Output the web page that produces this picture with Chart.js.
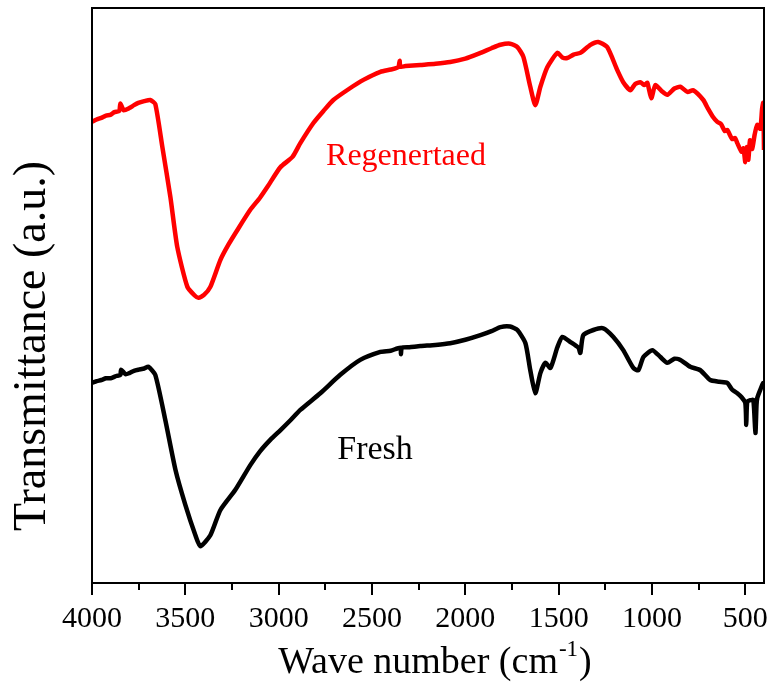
<!DOCTYPE html>
<html>
<head>
<meta charset="utf-8">
<title>FTIR spectra</title>
<script src="https://cdn.jsdelivr.net/npm/chart.js@4.4.1/dist/chart.umd.min.js"></script>
<style>
  html, body { margin: 0; padding: 0; background: #fff; }
  #wrap { width: 777px; height: 690px; }
</style>
</head>
<body>
<div id="wrap"><canvas id="ftir" width="777" height="690"></canvas></div>
<script>
// wavenumber (cm-1) and transmittance (a.u.) for each sample
const regenWave = [4000, 3975, 3950, 3925, 3902, 3880, 3854, 3848, 3830, 3800, 3775, 3752, 3720, 3688, 3661, 3623, 3580, 3543, 3489, 3450, 3430, 3400, 3366, 3312, 3270, 3221, 3152, 3100, 3060, 2991, 2926, 2884, 2814, 2760, 2707, 2620, 2546, 2455, 2400, 2359, 2352, 2348, 2321, 2241, 2160, 2081, 2000, 1919, 1860, 1812, 1760, 1721, 1689, 1652, 1625, 1598, 1561, 1507, 1480, 1454, 1420, 1384, 1330, 1288, 1240, 1186, 1154, 1116, 1090, 1063, 1040, 1025, 1004, 982, 950, 918, 880, 848, 810, 779, 725, 700, 672, 650, 630, 610, 597, 570, 555, 543, 520, 510, 500, 492, 484, 475, 463, 450, 436, 420, 410, 404, 400];
const regenT = [80.2, 80.6, 80.9, 81.3, 81.4, 81.9, 82.1, 83.4, 82.2, 82.6, 83.1, 83.5, 83.8, 84.0, 83.3, 75.8, 67.1, 58.4, 51.5, 50.0, 49.6, 50.1, 51.5, 56.2, 58.8, 61.4, 64.9, 67.0, 68.9, 72.3, 74.1, 76.5, 80.0, 82.1, 84.0, 86.0, 87.5, 88.9, 89.3, 89.7, 90.8, 89.8, 89.9, 90.1, 90.3, 90.6, 91.2, 92.2, 93.0, 93.6, 93.8, 93.2, 91.5, 86.3, 83.1, 86.3, 89.7, 92.2, 91.4, 91.3, 91.9, 92.2, 93.6, 94.1, 93.2, 89.2, 87.1, 85.7, 86.8, 87.1, 86.6, 87.0, 84.3, 86.6, 85.6, 84.9, 86.0, 86.3, 85.4, 85.7, 84.0, 82.5, 81.0, 80.2, 79.8, 78.6, 78.8, 77.2, 77.4, 76.5, 75.0, 75.6, 73.2, 75.8, 73.6, 77.0, 75.5, 78.0, 79.7, 79.0, 82.5, 83.5, 75.3];

const freshWave = [4000, 3975, 3950, 3925, 3900, 3870, 3848, 3844, 3820, 3800, 3775, 3750, 3720, 3698, 3661, 3607, 3553, 3500, 3446, 3420, 3366, 3312, 3232, 3152, 3100, 3045, 2990, 2937, 2884, 2777, 2670, 2563, 2455, 2400, 2348, 2345, 2340, 2300, 2241, 2160, 2081, 2000, 1919, 1860, 1812, 1760, 1721, 1678, 1652, 1625, 1598, 1571, 1544, 1507, 1480, 1437, 1394, 1384, 1368, 1314, 1261, 1207, 1154, 1100, 1073, 1046, 998, 955, 918, 880, 848, 795, 741, 688, 640, 597, 570, 543, 520, 500, 495, 490, 473, 457, 446, 440, 436, 420, 404, 400];
const freshT = [34.8, 35.1, 35.3, 35.6, 35.6, 36.0, 36.2, 37.1, 36.3, 36.5, 36.9, 37.1, 37.3, 37.6, 36.2, 28.3, 19.7, 13.6, 8.3, 6.4, 8.3, 12.7, 16.2, 20.5, 22.9, 24.9, 26.6, 28.3, 30.1, 33.0, 36.2, 38.8, 40.2, 40.4, 40.9, 39.8, 40.9, 41.0, 41.2, 41.4, 41.7, 42.3, 43.1, 43.8, 44.5, 44.6, 44.0, 41.7, 37.0, 33.0, 36.5, 38.3, 37.4, 41.0, 42.8, 41.9, 40.9, 40.0, 43.1, 44.0, 44.3, 42.8, 40.5, 37.4, 37.0, 39.3, 40.5, 39.3, 38.3, 39.0, 38.8, 37.6, 37.0, 35.3, 35.0, 34.8, 33.6, 33.0, 32.3, 31.3, 27.5, 31.5, 31.8, 31.8, 26.1, 31.0, 32.2, 33.6, 34.8, 34.2];

const xTicks = [4000, 3500, 3000, 2500, 2000, 1500, 1000, 500];
const xMinorTicks = [3750, 3250, 2750, 2250, 1750, 1250, 750];

const serif = "'Liberation Serif', 'Times New Roman', serif";

function toPoints(xs, ys) {
  return xs.map((x, i) => ({ x: x, y: ys[i] }));
}

// frame, minor ticks, axis titles and curve labels
const decorations = {
  id: "decorations",
  afterDraw(chart) {
    const { ctx, chartArea: a, scales } = chart;
    const xs = scales.x;
    ctx.save();
    ctx.strokeStyle = "#000";
    ctx.lineWidth = 2;
    ctx.strokeRect(a.left, a.top, a.right - a.left, a.bottom - a.top);

    ctx.beginPath();
    xMinorTicks.forEach((v) => {
      const px = Math.round(xs.getPixelForValue(v));
      ctx.moveTo(px, a.bottom);
      ctx.lineTo(px, a.bottom + 7);
    });
    ctx.stroke();

    // y title
    ctx.fillStyle = "#000";
    ctx.font = "46px " + serif;
    ctx.textAlign = "center";
    ctx.textBaseline = "alphabetic";
    ctx.translate(45, 346);
    ctx.rotate(-Math.PI / 2);
    ctx.fillText("Transmittance (a.u.)", 0, 0);
    ctx.setTransform(1, 0, 0, 1, 0, 0);

    // x title with superscript
    const main = "Wave number (cm";
    const sup = "-1";
    const close = ")";
    ctx.font = "38px " + serif;
    const w1 = ctx.measureText(main).width;
    const w3 = ctx.measureText(close).width;
    ctx.font = "23px " + serif;
    const w2 = ctx.measureText(sup).width;
    let x0 = 434 - (w1 + w2 + w3) / 2;
    const base = 673;
    ctx.textAlign = "left";
    ctx.font = "38px " + serif;
    ctx.fillText(main, x0, base);
    ctx.font = "23px " + serif;
    ctx.fillText(sup, x0 + w1 + 1, base - 17);
    ctx.font = "38px " + serif;
    ctx.fillText(close, x0 + w1 + w2 + 2, base);

    // curve labels
    ctx.textAlign = "center";
    ctx.fillStyle = "#ff0000";
    ctx.font = "32px " + serif;
    ctx.fillText("Regenertaed", 406, 165);
    ctx.fillStyle = "#000";
    ctx.font = "34px " + serif;
    ctx.fillText("Fresh", 375, 459);
    ctx.restore();
  }
};

new Chart(document.getElementById("ftir"), {
  type: "line",
  data: {
    datasets: [
      {
        label: "Regenertaed",
        data: toPoints(regenWave, regenT),
        borderColor: "#ff0000",
        borderWidth: 4.5,
        pointRadius: 0,
        tension: 0.2,
        fill: false
      },
      {
        label: "Fresh",
        data: toPoints(freshWave, freshT),
        borderColor: "#000000",
        borderWidth: 4.5,
        pointRadius: 0,
        tension: 0.2,
        fill: false
      }
    ]
  },
  options: {
    responsive: false,
    animation: false,
    events: [],
    layout: { padding: { left: 92, right: 13, top: 8, bottom: 47 } },
    plugins: {
      legend: { display: false },
      tooltip: { enabled: false }
    },
    scales: {
      x: {
        type: "linear",
        reverse: true,
        min: 400,
        max: 4000,
        afterBuildTicks: (axis) => {
          axis.ticks = xTicks.map((v) => ({ value: v }));
        },
        border: { display: false },
        grid: {
          drawOnChartArea: false,
          drawTicks: true,
          tickLength: 12,
          color: "#000",
          lineWidth: 2
        },
        ticks: {
          color: "#000",
          padding: 6,
          maxRotation: 0,
          autoSkip: false,
          font: { family: serif, size: 30 },
          callback: (v) => String(v)
        }
      },
      y: {
        display: false,
        min: 0,
        max: 100
      }
    }
  },
  plugins: [decorations]
});
</script>
</body>
</html>
